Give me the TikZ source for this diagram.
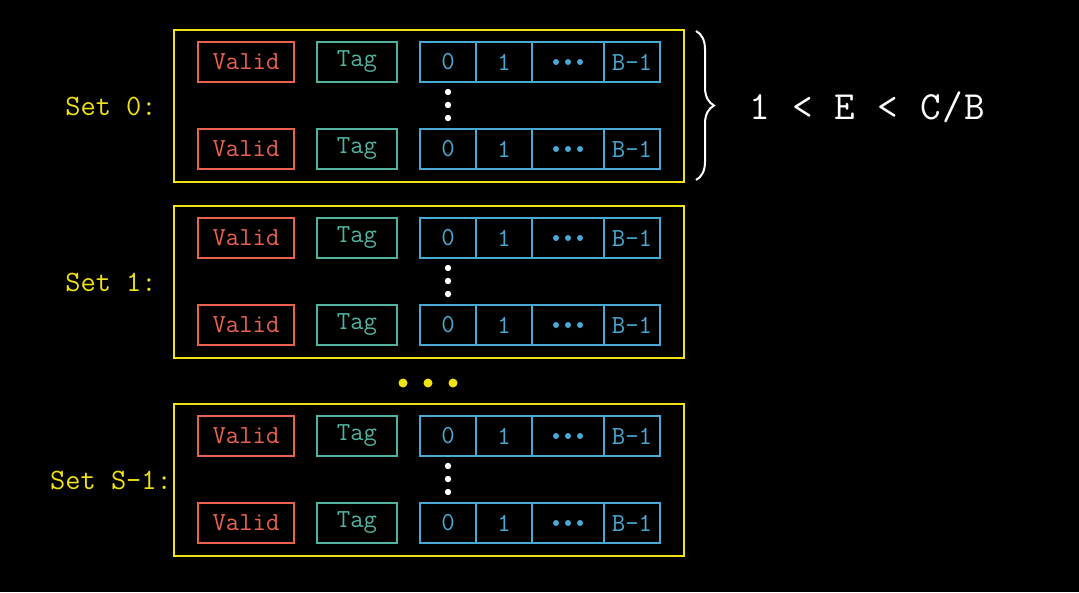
\documentclass[tikz,border=0pt]{standalone}
\usepackage{fontspec}
\setmonofont{Latin Modern Mono}
\usetikzlibrary{decorations.pathreplacing}
\definecolor{cyel}{RGB}{240,226,20}
\definecolor{cred}{RGB}{232,98,78}
\definecolor{cteal}{RGB}{82,178,160}
\definecolor{cblue}{RGB}{72,170,212}
\tikzset{
  cellbox/.style={draw, line width=2pt, minimum height=40pt, inner sep=0pt, anchor=north west,
    font=\ttfamily\fontsize{26}{26}\selectfont},
  validbox/.style={cellbox, draw=cred, text=cred, minimum width=96pt},
  tagbox/.style={cellbox, draw=cteal, text=cteal, minimum width=80pt},
  databox/.style={cellbox, draw=cblue, text=cblue},
  setbox/.style={draw=cyel, line width=2.4pt, minimum width=510pt, minimum height=152pt, inner sep=0pt, anchor=north west},
  setlabel/.style={text=cyel, font=\ttfamily\fontsize{29.5}{30}\selectfont},
}
\begin{document}
\begin{tikzpicture}[x=1pt,y=-1pt]
\fill[black] (0,0) rectangle (1079,592);
\useasboundingbox (0,0) rectangle (1079,592);
\foreach \n/\t/\lab in {0/29/Set 0:, 1/205/Set 1:, 2/403/Set S-1:}{
  \node[setbox] (set\n) at (173,\t) {};
  \node[setlabel] (lab\n) at (111,{\t+77}) {\lab};
  \foreach \r/\dy in {a/12, b/99}{
    \node[validbox] (v\n\r) at (197,{\t+\dy}) {Valid};
    \node[tagbox] (g\n\r) at (316,{\t+\dy}) {Tag};
    \node[databox, minimum width=56pt] (d\n\r0) at (419,{\t+\dy}) {0};
    \node[databox, minimum width=56pt] (d\n\r1) at (475,{\t+\dy}) {1};
    \node[databox, minimum width=72pt] (d\n\r2) at (531,{\t+\dy}) {};
    \node[databox, minimum width=56pt] (d\n\r3) at (603,{\t+\dy}) {B-1};
    \foreach \k in {-12,0,12}{
      \fill[cblue] ([xshift=\k pt]d\n\r2.center) circle (3pt);
    }
  }
  \foreach \k in {63,76,89}{
    \fill[white] (448,{\t+\k}) circle (3.2pt);
  }
}
\foreach \k in {403,428,453}{
  \fill[cyel] (\k,383) circle (4.5pt);
}
\coordinate (bt) at (696,31);
\coordinate (bb) at (696,180);
\draw[white, line width=2pt, decorate, decoration={brace, amplitude=18pt}] (bt) -- (bb);
\node[anchor=west, text=white, inner sep=0pt, font=\ttfamily\fontsize{40}{40}\selectfont\addfontfeature{LetterSpace=4}] (eq) at (749,107) {1 < E < C/B};
\end{tikzpicture}
\end{document}
